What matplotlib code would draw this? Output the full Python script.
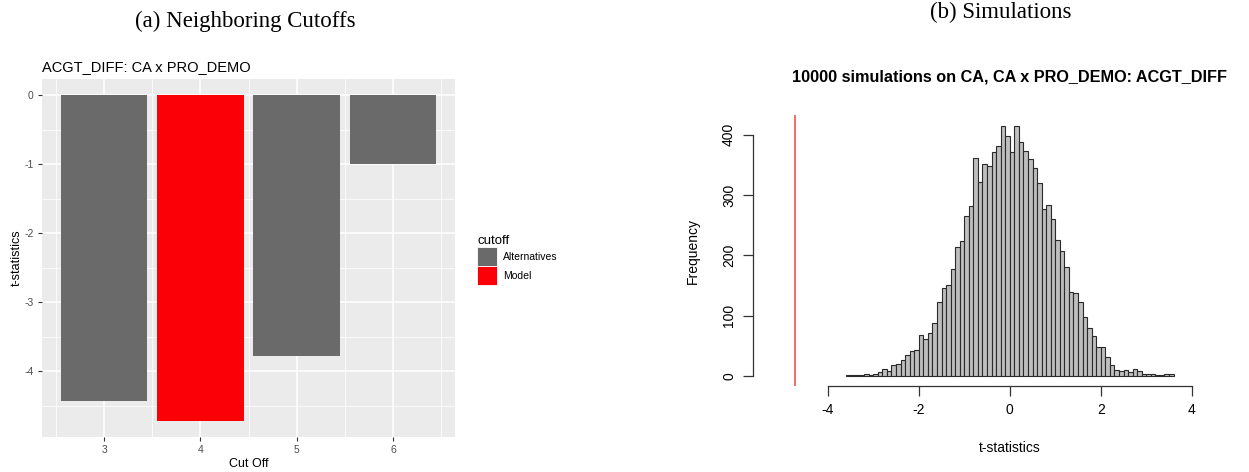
import numpy as np
import matplotlib
matplotlib.use("Agg")
import matplotlib.pyplot as plt
from matplotlib.patches import Patch

plt.rcParams["axes.unicode_minus"] = False

# t-statistics by cutoff (panel a)
cutoffs = [3, 4, 5, 6]
t_stats = [-4.43, -4.72, -3.78, -0.99]
groups = ["Alternatives", "Model", "Alternatives", "Alternatives"]
group_colors = {"Alternatives": "#6a6a6a", "Model": "#fb0007"}

# histogram of simulated t-statistics (panel b), bins of 0.1 from -3.6 to 3.6
bin_edges = np.round(np.arange(-3.6, 3.6001, 0.1), 2)
sim_counts = [1, 1, 1, 2, 3, 2, 3, 7, 12, 9,
              19, 20, 27, 34, 41, 43, 68, 61, 71, 87,
              123, 146, 150, 178, 214, 224, 266, 282, 362, 321,
              352, 348, 372, 381, 415, 397, 371, 415, 388, 373,
              360, 344, 320, 277, 283, 260, 225, 208, 181, 139,
              137, 123, 97, 80, 66, 48, 48, 32, 18, 10,
              8, 10, 7, 11, 8, 4, 3, 3, 2, 2, 3, 3]
model_t = t_stats[groups.index("Model")]

W, H = 1249, 472
fig = plt.figure(figsize=(W / 100, H / 100), dpi=100)
sans = ["Liberation Sans", "DejaVu Sans"]

def px_axes(left, top, right, bottom):
    return fig.add_axes([left / W, 1 - bottom / H, (right - left) / W, (bottom - top) / H])

# headers
fig.text(245 / W, 1 - 21 / H, "(a) Neighboring Cutoffs", ha="center", va="center",
         family="Liberation Serif", fontsize=16.5)
fig.text(1001 / W, 1 - 12 / H, "(b) Simulations", ha="center", va="center",
         family="Liberation Serif", fontsize=16.5)

# ---- panel a: ggplot-like bar chart ----
ax1 = px_axes(42, 79, 455, 437)
ax1.set_facecolor("#ebebeb")
for s in ax1.spines.values():
    s.set_visible(False)
for y in np.arange(-4.5, 0.1, 0.5):
    major = float(y).is_integer()
    ax1.axhline(y, color="white", lw=1.1 if major else 0.55, zorder=0)
for x in np.arange(2.5, 6.6, 0.5):
    major = float(x).is_integer()
    ax1.axvline(x, color="white", lw=1.1 if major else 0.55, zorder=0)
ax1.bar(cutoffs, t_stats, width=0.9, color=[group_colors[g] for g in groups], zorder=2)
ax1.set_xlim(2.355, 6.645)
ax1.set_ylim(-4.956, 0.236)
ax1.set_xticks(cutoffs)
ax1.set_yticks([0, -1, -2, -3, -4])
ax1.tick_params(length=3, width=0.8, color="#333333", labelcolor="#4d4d4d", labelsize=7.5, pad=3)
for lab in ax1.get_xticklabels() + ax1.get_yticklabels():
    lab.set_family(sans)
ax1.set_xlabel("Cut Off", family=sans, fontsize=9, labelpad=2)
ax1.set_ylabel("t-statistics", family=sans, fontsize=9, labelpad=1)
ax1.set_title("ACGT_DIFF: CA x PRO_DEMO", family=sans, fontsize=10.5, loc="left", pad=6)

handles = [Patch(facecolor=group_colors[g], edgecolor="white", linewidth=0.6, label=g)
           for g in ["Alternatives", "Model"]]
leg = fig.legend(handles=handles, title="cutoff", loc="upper left",
                 bbox_to_anchor=(468 / W, 1 - 226 / H), frameon=False,
                 prop={"family": sans, "size": 7.5}, title_fontproperties={"family": sans, "size": 9.5},
                 handlelength=1.85, handleheight=2.4, handletextpad=0.6, labelspacing=0.0)
leg._legend_box.align = "left"

# ---- panel b: base-R-like histogram ----
x_lo, x_hi = -5.65, 5.65
px_per_unit = 45.5
ax2 = px_axes(752.7, 115, 752.7 + (x_hi - x_lo) * px_per_unit, 386)
ax2.hist(bin_edges[:-1], bins=bin_edges, weights=sim_counts,
         facecolor="#bebebe", edgecolor="#2a2a2a", linewidth=0.8)
ax2.axvline(model_t, color="#f06060", lw=1.3)
ax2.set_xlim(x_lo, x_hi)
ax2.set_ylim(-16.6, 432.6)
for side in ["top", "right"]:
    ax2.spines[side].set_visible(False)
ax2.spines["bottom"].set_bounds(-4, 4)
ax2.spines["left"].set_bounds(0, 400)
for side in ["bottom", "left"]:
    ax2.spines[side].set_color("#333333")
    ax2.spines[side].set_linewidth(0.9)
ax2.set_xticks([-4, -2, 0, 2, 4])
ax2.set_yticks([0, 100, 200, 300, 400])
ax2.tick_params(length=7, width=0.9, color="#333333", labelsize=10, pad=5)
for lab in ax2.get_xticklabels():
    lab.set_family(sans)
for lab in ax2.get_yticklabels():
    lab.set_family(sans)
    lab.set_rotation(90)
    lab.set_va("center")
ax2.set_ylabel("Frequency", family=sans, fontsize=10, labelpad=16)
ax2.text(0, -0.23, "t-statistics", transform=ax2.get_xaxis_transform(),
         ha="center", va="center", family=sans, fontsize=10)
ax2.text(0, 1.14, "10000 simulations on CA, CA x PRO_DEMO: ACGT_DIFF",
         transform=ax2.get_xaxis_transform(), ha="center", va="center",
         family=sans, fontsize=11.7, fontweight="bold")

fig.savefig("out.png", dpi=100)
